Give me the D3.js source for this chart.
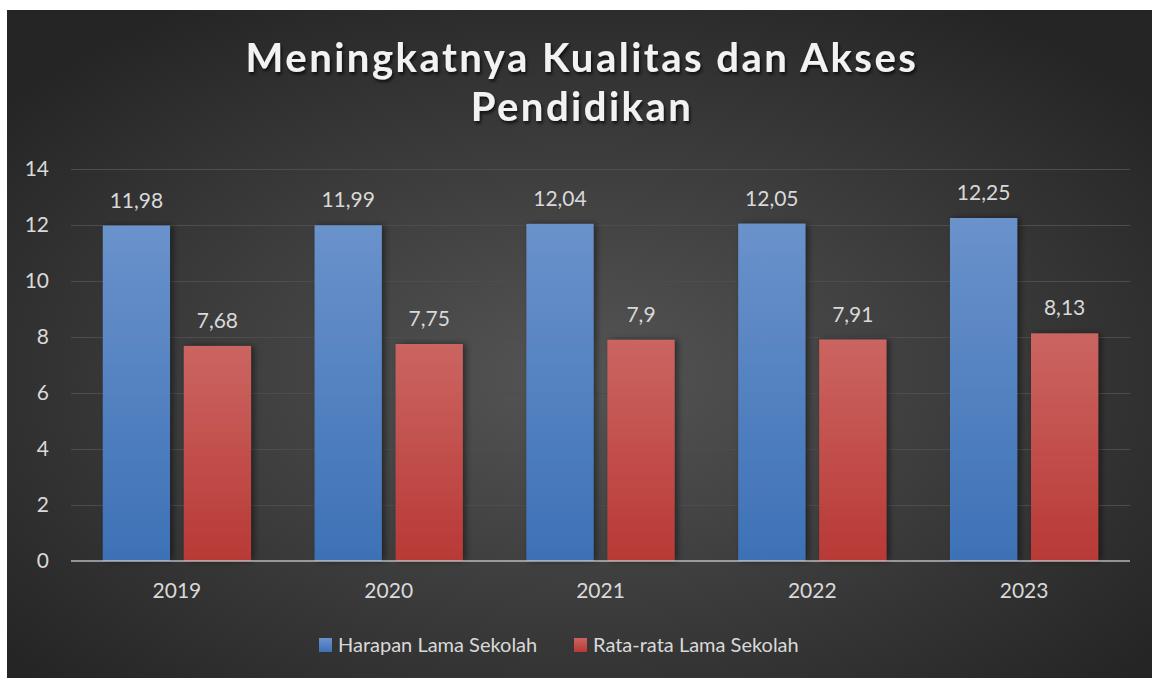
<!DOCTYPE html>
<html>
<head>
<meta charset="utf-8">
<script src="https://cdn.jsdelivr.net/npm/d3@7"></script>
<style>
  html, body { margin: 0; padding: 0; background: #fff; }
  svg { display: block; }
  text { font-family: Lato, "Open Sans", sans-serif; }
</style>
</head>
<body>
<svg id="chart" width="1152" height="678"></svg>
<script>
// chart data
var years = ["2019", "2020", "2021", "2022", "2023"];
var seriesNames = ["Harapan Lama Sekolah", "Rata-rata Lama Sekolah"];
var harapan = [11.98, 11.99, 12.04, 12.05, 12.25];
var rataRata = [7.68, 7.75, 7.9, 7.91, 8.13];
var yTicks = [0, 2, 4, 6, 8, 10, 12, 14];
var titleLines = ["Meningkatnya Kualitas dan Akses", "Pendidikan"];

var svg = d3.select("#chart");
var defs = svg.append("defs");

// background gradient
var bg = defs.append("radialGradient").attr("id", "bgGrad")
    .attr("cx", "50%").attr("cy", "55%").attr("r", "65%");
bg.append("stop").attr("offset", "0%").attr("stop-color", "#555555");
bg.append("stop").attr("offset", "100%").attr("stop-color", "#252525");

function barGrad(id, top, bottom) {
    var g = defs.append("linearGradient").attr("id", id)
        .attr("x1", 0).attr("y1", 0).attr("x2", 0).attr("y2", 1);
    g.append("stop").attr("offset", "0%").attr("stop-color", top);
    g.append("stop").attr("offset", "100%").attr("stop-color", bottom);
}
barGrad("gBlue", "#6a92cb", "#3d71b6");
barGrad("gRed", "#cb6561", "#b83936");
var colors = ["url(#gBlue)", "url(#gRed)"];

var shadow = defs.append("filter").attr("id", "barShadow")
    .attr("x", "-20%").attr("y", "-10%").attr("width", "150%").attr("height", "120%");
shadow.append("feDropShadow").attr("dx", 3).attr("dy", 0).attr("stdDeviation", 3)
    .attr("flood-color", "#000").attr("flood-opacity", 0.45);

var tShadow = defs.append("filter").attr("id", "titleShadow")
    .attr("x", "-5%").attr("y", "-20%").attr("width", "110%").attr("height", "150%");
tShadow.append("feDropShadow").attr("dx", 1.5).attr("dy", 2.5).attr("stdDeviation", 1.5)
    .attr("flood-color", "#000").attr("flood-opacity", 0.7);

svg.append("rect").attr("x", 7).attr("y", 10).attr("width", 1145).attr("height", 668)
    .attr("fill", "url(#bgGrad)");

// scales
var x0 = d3.scaleBand().domain(years).range([71, 1130]).paddingInner(0.3).paddingOuter(0.15);
var x1 = d3.scaleBand().domain([0, 1]).range([0, x0.bandwidth()]).paddingInner(0.17);
var y = d3.scaleLinear().domain([0, 14]).range([561, 169]);

// gridlines
svg.append("g").selectAll("line").data(yTicks.filter(function(d) { return d > 0; }))
    .enter().append("line")
    .attr("x1", 71).attr("x2", 1130)
    .attr("y1", function(d) { return y(d) + 0.5; })
    .attr("y2", function(d) { return y(d) + 0.5; })
    .attr("stroke", "#4d4d4d").attr("stroke-width", 1.2);

// y axis labels
var yAxis = svg.append("g").attr("transform", "translate(49,0)")
    .call(d3.axisLeft(y).tickValues(yTicks).tickSize(0).tickPadding(0));
yAxis.select(".domain").remove();
yAxis.selectAll("text").attr("fill", "#d9d9d9").style("font-size", "21px")
    .style("font-family", "Lato, 'Open Sans', sans-serif");

// bars
var rows = years.map(function(yr, i) { return { year: yr, vals: [harapan[i], rataRata[i]] }; });
var groups = svg.append("g").selectAll("g").data(rows).enter().append("g")
    .attr("transform", function(d) { return "translate(" + x0(d.year) + ",0)"; });

groups.selectAll("rect").data(function(d) { return d.vals; }).enter().append("rect")
    .attr("x", function(d, i) { return x1(i); })
    .attr("y", function(d) { return y(d); })
    .attr("width", x1.bandwidth())
    .attr("height", function(d) { return y(0) - y(d); })
    .attr("fill", function(d, i) { return colors[i]; })
    .attr("filter", "url(#barShadow)");

groups.selectAll("text.val").data(function(d) { return d.vals; }).enter().append("text")
    .attr("class", "val")
    .attr("x", function(d, i) { return x1(i) + x1.bandwidth() / 2; })
    .attr("y", function(d) { return y(d) - 18; })
    .attr("text-anchor", "middle")
    .attr("fill", "#d9d9d9").style("font-size", "21px")
    .text(function(d) { return String(d).replace(".", ","); });

// x axis
svg.append("line").attr("x1", 71).attr("x2", 1130).attr("y1", 561).attr("y2", 561)
    .attr("stroke", "rgba(217,217,217,0.6)").attr("stroke-width", 2.2);

var xAxis = svg.append("g").attr("transform", "translate(0,598)")
    .call(d3.axisBottom(x0).tickSize(0).tickPadding(0));
xAxis.select(".domain").remove();
xAxis.selectAll("text").attr("fill", "#d9d9d9").attr("dy", 0).style("font-size", "21px")
    .style("font-family", "Lato, 'Open Sans', sans-serif");

// title
svg.append("g").attr("filter", "url(#titleShadow)").selectAll("text")
    .data(titleLines).enter().append("text")
    .attr("x", 582).attr("y", function(d, i) { return 72 + i * 49; })
    .attr("text-anchor", "middle")
    .attr("fill", "#f2f2f2").style("font-size", "40px").style("font-weight", "bold")
    .style("letter-spacing", "2.5px")
    .text(function(d) { return d; });

// legend
var legendX = [319, 574];
var items = svg.append("g").selectAll("g").data(seriesNames).enter().append("g")
    .attr("transform", function(d, i) { return "translate(" + legendX[i] + ",0)"; });
items.append("rect").attr("width", 13).attr("height", 14).attr("y", 638)
    .attr("fill", function(d, i) { return colors[i]; });
items.append("text").attr("x", 19).attr("y", 652)
    .attr("fill", "#d9d9d9").style("font-size", "20px")
    .text(function(d) { return d; });
</script>
</body>
</html>
